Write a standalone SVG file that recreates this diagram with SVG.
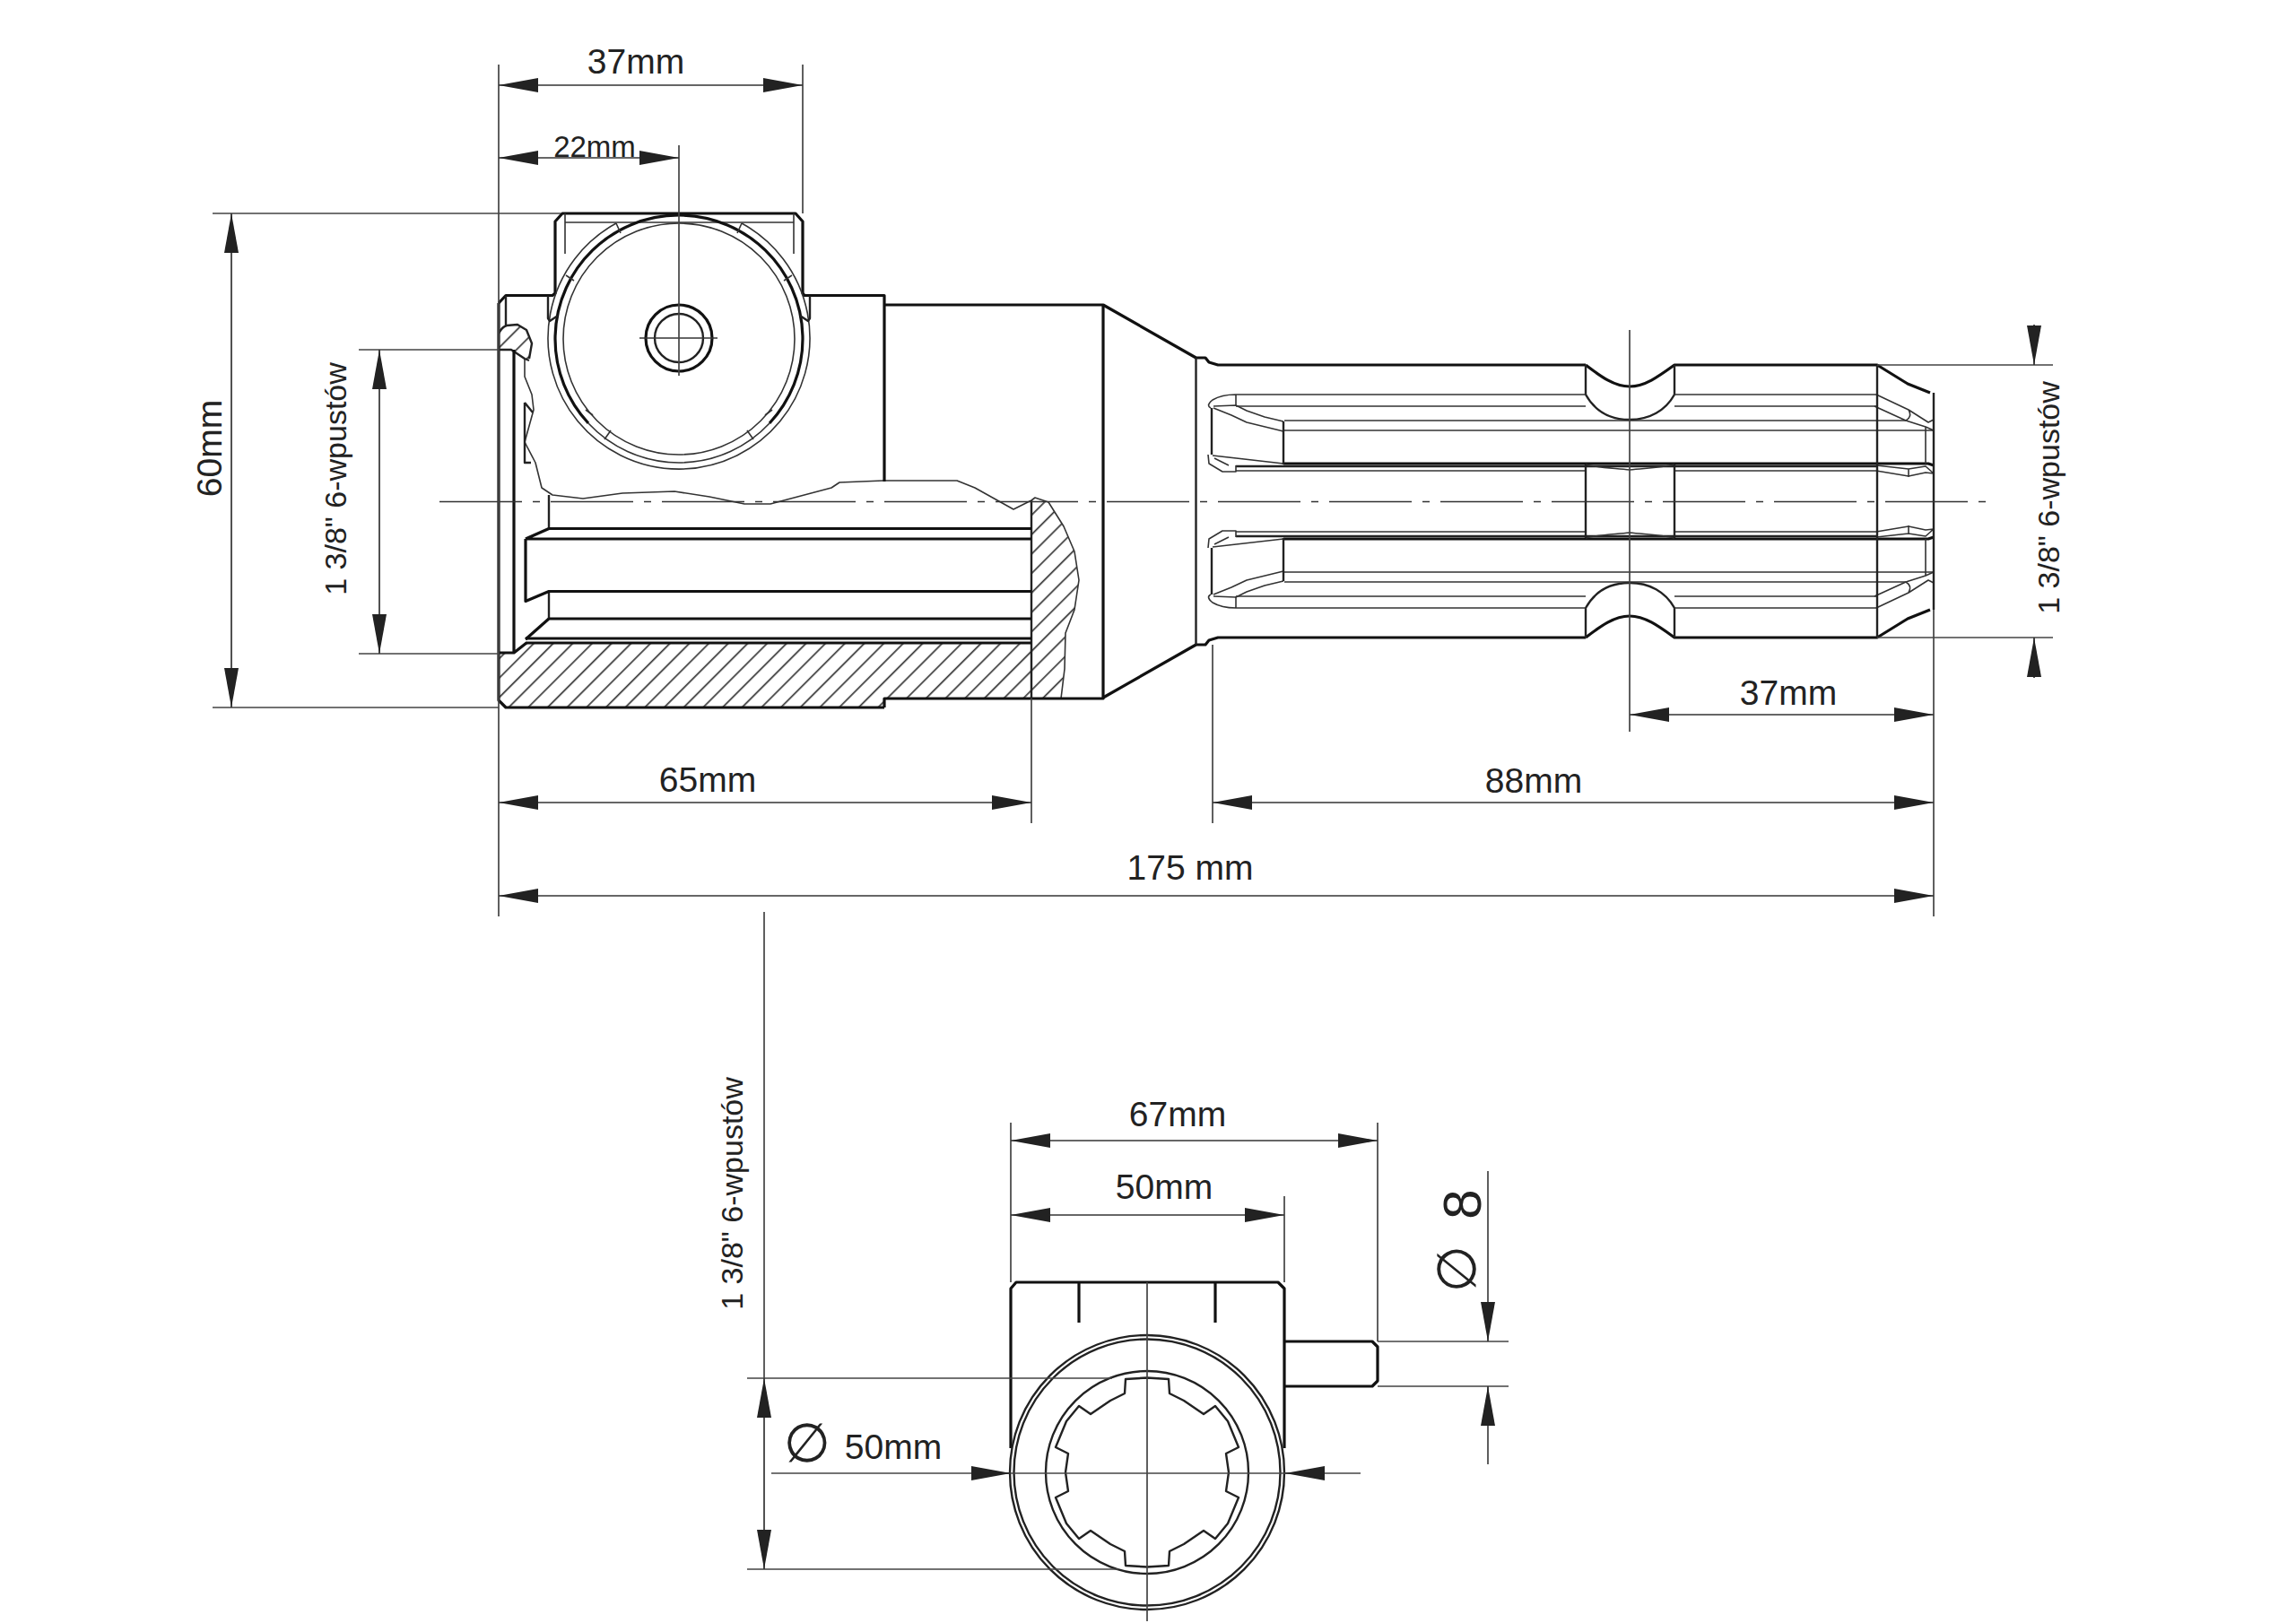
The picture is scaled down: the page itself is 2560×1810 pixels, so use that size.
<svg xmlns="http://www.w3.org/2000/svg" xmlns:xlink="http://www.w3.org/1999/xlink" width="2560" height="1810" viewBox="0 0 2560 1810">
<style>
.o{fill:none;stroke:#111;stroke-width:3.2;stroke-linejoin:round}
.m{fill:none;stroke:#222;stroke-width:2.4;stroke-linejoin:round}
.t{fill:none;stroke:#333;stroke-width:1.6;stroke-linejoin:round}
.d{fill:none;stroke:#333;stroke-width:1.7}
.e{fill:none;stroke:#444;stroke-width:1.7}
.c{fill:none;stroke:#333;stroke-width:1.7;stroke-dasharray:92 12 8 12}
.a{marker-start:url(#arr);marker-end:url(#arr)}
text{font-family:"Liberation Sans",Arial,sans-serif;fill:#222;text-anchor:middle}
.f39{font-size:39px}.f33{font-size:33px}.f34{font-size:34px}
.sym{font-family:"DejaVu Sans",sans-serif}
</style>
<defs>
<marker id="arr" markerUnits="userSpaceOnUse" markerWidth="46" markerHeight="18" refX="44" refY="9" orient="auto-start-reverse" viewBox="0 0 46 18"><path d="M44 9L0 1V17Z" fill="#222"/></marker>
<pattern id="h" width="15.330" height="15.330" patternUnits="userSpaceOnUse" patternTransform="rotate(-45)"><line x1="0" y1="8.400" x2="15.330" y2="8.400" stroke="#333" stroke-width="1.7"/></pattern>
<g id="half">
<path class="o" d="M1230 340L1333.500 399H1344L1348 404L1358 407H1768"/>
<path class="o" d="M1768 407C1785 420 1800 431 1817 431C1834 431 1849 420 1867 407H2093L2127 428L2152 438"/>
<path class="m" d="M1768 407V440C1778 458 1795 468 1817 468C1839 468 1857 458 1867 440V407"/>
<path class="t" d="M1378 440H1768M1867 440H2092M1378 453H1768M1867 453H2092M1432 469H2125M1432 480H2156"/>
<path class="o" d="M1431 517H2150L2156 519"/>
<path class="m" d="M1378 520H2092"/>
<path class="t" d="M1378 525H1768M1867 525H2092"/>
<path class="t" d="M1378 440C1365 440 1357 443 1352 446C1347 450 1346 453 1350 455M1378 440V453M1378 519V526H1363L1348 517L1347 507"/>
<path class="t" d="M1353 453L1378 452L1390 458L1410 465L1431 470M1353 455L1373 463L1390 471L1431 481M1352 508L1431 517M1354 511L1370 519"/>
<path class="m" d="M1351 455V507M1431 470V518"/>
<path class="t" d="M2092 440L2128 457L2150 471L2156 468M2090 453L2125 469L2147 476L2156 480M2128 457C2131 462 2130 466 2125 469M2147 476V517"/>
<path class="t" d="M2092 519L2128 523L2147 520L2156 528M2092 525L2128 531L2147 527L2156 528M2128 523V532"/>
<path class="t" d="M1768 518C1785 522 1800 522 1817 524C1834 522 1850 522 1867 518"/>
</g>
</defs>

<rect width="2560" height="1810" fill="#fff"/>

<g id="side-view">
<path d="M556 728H573L587 717H1150V558L1154 555L1169 560L1186 587L1198 615L1203 647L1198 680L1188 706L1187 746L1183 779H986V789H564L556 781Z" fill="url(#h)"/>
<path d="M556 390V370L565 363L577 362L587 368L593 383L590 400H585L570 390Z" fill="url(#h)"/>
<path class="t" d="M585 400V420L593 440L595 457L585 493L597 516L604 544L616 552L650 556L694 550L752 548L791 554L830 562L859 562L927 544L936 538L985 536L1067 536L1087 544L1130 568L1150 558"/>
<path class="t" d="M1150 558L1154 555L1169 560L1186 587L1198 615L1203 647L1198 680L1188 706L1187 746L1183 779"/>
<path class="o" d="M556 338L564 329.500H616L619 327V247L627 238H887L895 247V327L897 329.500H986V537"/>
<path class="o" d="M986 789H564L556 781V338"/>
<path class="o" d="M986 789V779H1230V340H986"/>
<path class="m" d="M564 330V363M556 372C558 368 561 364 565 363L577 362L587 368L593 383L590 400M556 390H570L585 400L590 402"/>
<path class="o" d="M573 390V728L587 717M573 728H556"/>
<path class="m" d="M612 552V589.500M612 659.500V690M1150 558V779"/>
<path class="o" d="M612 589.500H1150M586 601H1150M586 601L612 589.500M586 601V670.500L612 659.500H1150M612 690H1150M612 690L586 713"/>
<path class="o" d="M586 712H1150M586 717H1150"/>
<path class="m" d="M585 449V516H592M585 449L594 460"/>
<path class="t" d="M630 238V283M630 248H885M885 238V283"/>
<circle class="t" cx="757" cy="378" r="129"/>
<path class="o" d="M656 472A138 138 0 1 1 858 472"/>
<path class="t" d="M656 472A138 138 0 0 0 858 472"/>
<path class="t" d="M687 249A146 146 0 1 0 827 249"/>
<path class="t" d="M653 457L661 463M674 490L681 480M861 457L853 463M840 490L833 480M687 249L692 260M827 249L822 260M631 307L640 313M883 307L874 313"/>
<path class="m" d="M611 330V355L613 358L622 352M903 330V355L901 358L892 352"/>
<circle class="o" cx="757" cy="377" r="37"/>
<circle class="m" cx="757" cy="377" r="27"/>
<path class="d" d="M713 377H800"/>
<use xlink:href="#half" href="#half"/>
<use xlink:href="#half" href="#half" transform="matrix(1 0 0 -1 0 1118)"/>
<path class="m" d="M1333.500 399V719M2156 438V680M2093 407V711M1768 518V600M1867 518V600"/>
</g>

<g id="end-view">
<path class="o" d="M1127 1615V1437L1133 1430H1425L1432 1437V1615M1203 1430V1475M1355 1430V1475M1432 1496H1530L1536 1502V1540L1530 1546H1432"/>
<circle class="m" cx="1279" cy="1642" r="153"/>
<circle class="m" cx="1279" cy="1642" r="148.500"/>
<circle class="m" cx="1279" cy="1642" r="113"/>
<path class="m" d="M1279 1536.500L1303 1538L1304 1554L1320 1562L1342 1577L1355 1568L1369 1585L1381 1614L1367 1621L1370 1642L1367 1663L1381 1670L1369 1699L1355 1716L1342 1707L1320 1722L1304 1730L1303 1746L1279 1747.500L1255 1746L1254 1730L1238 1722L1216 1707L1203 1716L1189 1699L1177 1670L1191 1663L1188 1642L1191 1621L1177 1614L1189 1585L1203 1568L1216 1577L1238 1562L1254 1554L1255 1538Z"/>
</g>

<g id="connectors">
<path class="c" d="M490 559.500H2225"/>
<path class="e" d="M556 72V922M895 72V238M757 162V419M237 238H625M237 789H556M400 390H556M400 729H556M1150 779V918M556 922V1022M1352 719V918M2156 680V1022M1817 368V816M2093 407H2289M2093 711H2289"/>
<path class="d a" d="M556 95H895"/>
<path class="d a" d="M556 176H757"/>
<path class="d a" d="M258 238V789"/>
<path class="d a" d="M423 390V729"/>
<path class="d a" d="M556 895H1150"/>
<path class="d a" d="M1352 895H2156"/>
<path class="d a" d="M556 999H2156"/>
<path class="d a" d="M1817 797H2156"/>
<path class="d" d="M2268 362V407" marker-end="url(#arr)"/>
<path class="d" d="M2268 756V711" marker-end="url(#arr)"/>
<path class="e" d="M852 1017V1537M833 1537H1240M833 1750H1247M1279 1430V1808M1127 1252V1430M1536 1252V1496M1432 1334V1430M1536 1496H1682M1536 1546H1682M1659 1306V1453M1659 1587V1633"/>
<path class="d a" d="M852 1537V1750"/>
<path class="d a" d="M1127 1272H1536"/>
<path class="d a" d="M1127 1355H1432"/>
<path class="e" d="M860 1643H1517"/>
<path class="d" d="M1083 1643H1127" marker-end="url(#arr)"/>
<path class="d" d="M1477 1643H1433" marker-end="url(#arr)"/>
<path class="d" d="M1659 1453V1496" marker-end="url(#arr)"/>
<path class="d" d="M1659 1590V1546" marker-end="url(#arr)"/>
</g>

<g id="labels">
<text class="f39" x="709" y="82">37mm</text>
<text class="f33" x="663" y="175">22mm</text>
<text class="f39" transform="translate(247 500) rotate(-90)">60mm</text>
<text class="f34" transform="translate(386 534) rotate(-90)">1 3/8" 6-wpustów</text>
<text class="f39" x="789" y="883">65mm</text>
<text class="f39" x="1710" y="884">88mm</text>
<text class="f39" x="1327" y="981">175 mm</text>
<text class="f39" x="1994" y="786">37mm</text>
<text class="f34" transform="translate(2296 555) rotate(-90)">1 3/8" 6-wpustów</text>
<text class="f34" transform="translate(828 1331) rotate(-90)">1 3/8" 6-wpustów</text>
<text class="f39" x="1313" y="1256">67mm</text>
<text class="f39" x="1298" y="1337">50mm</text>
<text class="f39" x="996" y="1627">50mm</text>
<text class="sym" style="font-size:60px" x="900" y="1630">∅</text>
<text class="sym" style="font-size:60px" transform="translate(1645 1415) rotate(-90)">∅</text>
<text style="font-size:60px" transform="translate(1651 1343) rotate(-90)">8</text>
</g>
</svg>
